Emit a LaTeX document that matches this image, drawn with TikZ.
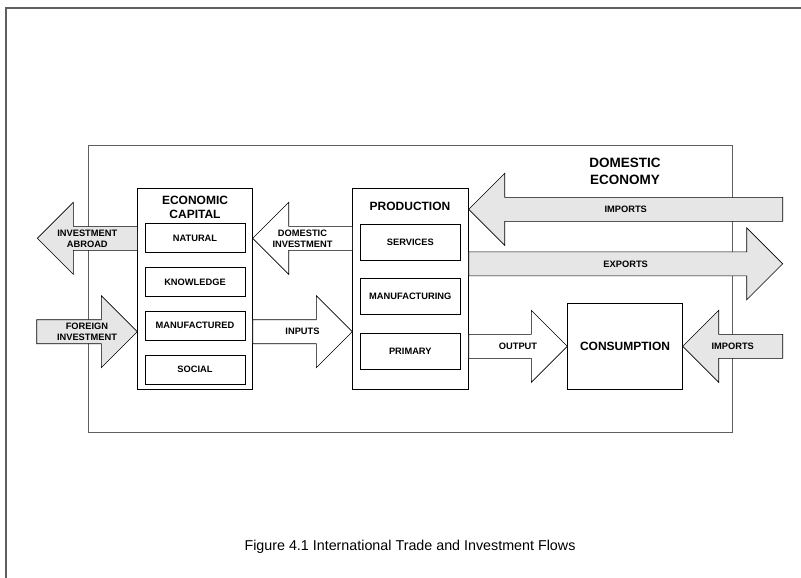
\documentclass[tikz,border=0pt]{standalone}
\usepackage{fontspec}
\setmainfont{Liberation Sans}
\usetikzlibrary{positioning,calc}
\definecolor{flowgray}{RGB}{230,230,230}
\definecolor{framegray}{RGB}{95,95,95}

\begin{document}
\begin{tikzpicture}[x=1pt, y=-1pt,
    every node/.style={font=\bfseries\fontsize{9.3}{11}\selectfont, align=center},
    title/.style={font=\bfseries\fontsize{12}{14}\selectfont},
    panel/.style={draw, line width=0.8pt, minimum width=114.6pt, minimum height=201pt, inner sep=0pt},
    part/.style={draw, line width=0.7pt, minimum width=100pt, minimum height=29pt, inner sep=0pt},
    sector/.style={part, minimum width=100.7pt, minimum height=36pt},
    fat/.style={draw, line width=0.6pt, to path={let \p1=(\tikztostart), \p2=(\tikztotarget),
        \n1={((\x2>\x1)*2-1)*36} in
        (\x1,\y2+12pt) -- ({\x2-\n1},\y2+12pt) -- ({\x2-\n1},\y2+36pt) -- (\x2,\y2)
        -- ({\x2-\n1},\y2-36pt) -- ({\x2-\n1},\y2-12pt) -- (\x1,\y2-12pt) -- cycle}},
    inflow/.style={fat, fill=flowgray},
    outflow/.style={fat, fill=white}
]
    \useasboundingbox (0,0) rectangle (801,578);
    \draw[framegray, line width=1.5pt] (6,578) -- (6,8) -- (801,8);

    % domestic economy
    \node[draw=framegray, line width=0.8pt, minimum width=644.4pt, minimum height=287pt, inner sep=0pt] (domestic) at (410.5,288.5) {};
    \node[font=\bfseries\fontsize{13.5}{16.7}\selectfont] (domtitle) at (625,171.7) {DOMESTIC\\ECONOMY};

    % economic capital
    \node[panel] (capital) at (195,288.8) {};
    \node[title] (captitle) at (195,207) {ECONOMIC\\CAPITAL};
    \node[part] (natural) at (195,238.3) {NATURAL};
    \node[part, below=14pt of natural] (knowledge) {KNOWLEDGE};
    \node[part, below=14pt of knowledge] (manufactured) {MANUFACTURED};
    \node[part, below=14pt of manufactured] (social) {SOCIAL};

    % production
    \node[panel, minimum width=115.6pt] (production) at (410.5,288.8) {};
    \node[title] (prodtitle) at (410,206.7) {PRODUCTION};
    \node[sector] (services) at (410.3,242) {SERVICES};
    \node[sector, below=18pt of services] (manufacturing) {MANUFACTURING};
    \node[sector, below=18pt of manufacturing] (primary) {PRIMARY};

    \node[draw, line width=0.8pt, minimum width=114.6pt, minimum height=86pt, title] (consumption) at (625,346.3) {CONSUMPTION};

    % free ends of the flows
    \coordinate (abroad) at (37.3,238.3);
    \coordinate (foreign) at (36.7,331.7);
    \coordinate (imp) at (782.7,209.3);
    \coordinate (exp) at (782.7,263.8);
    \coordinate (impcons) at (782.7,346.3);

    \draw[inflow] (capital.west |- natural) to (abroad);
    \path (capital.west |- natural) -- node {INVESTMENT\\ABROAD} (abroad);
    \draw[inflow] (foreign) to (capital.west |- foreign);
    \path (foreign) -- node {FOREIGN\\INVESTMENT} (capital.west |- foreign);
    \draw[outflow] (production.west |- natural) to (capital.east |- natural);
    \path (production.west |- natural) -- node {DOMESTIC\\INVESTMENT} (capital.east |- natural);
    \draw[outflow] (capital.east |- foreign) to (production.west |- foreign);
    \path (capital.east |- foreign) -- node {INPUTS} (production.west |- foreign);
    \draw[inflow] (imp) to (production.east |- imp);
    \path (imp) -- node {IMPORTS} (production.east |- imp);
    \draw[inflow] (production.east |- exp) to (exp);
    \path (production.east |- exp) -- node {EXPORTS} (exp);
    \draw[outflow] (production.east |- consumption) to (consumption.west);
    \path (production.east |- consumption) -- node {OUTPUT} (consumption.west);
    \draw[inflow] (impcons) to (consumption.east);
    \path (impcons) -- node {IMPORTS} (consumption.east);

    \node[font=\fontsize{14.3}{17}\selectfont] (caption) at (410,546.7) {Figure 4.1 International Trade and Investment Flows};
\end{tikzpicture}
\end{document}
